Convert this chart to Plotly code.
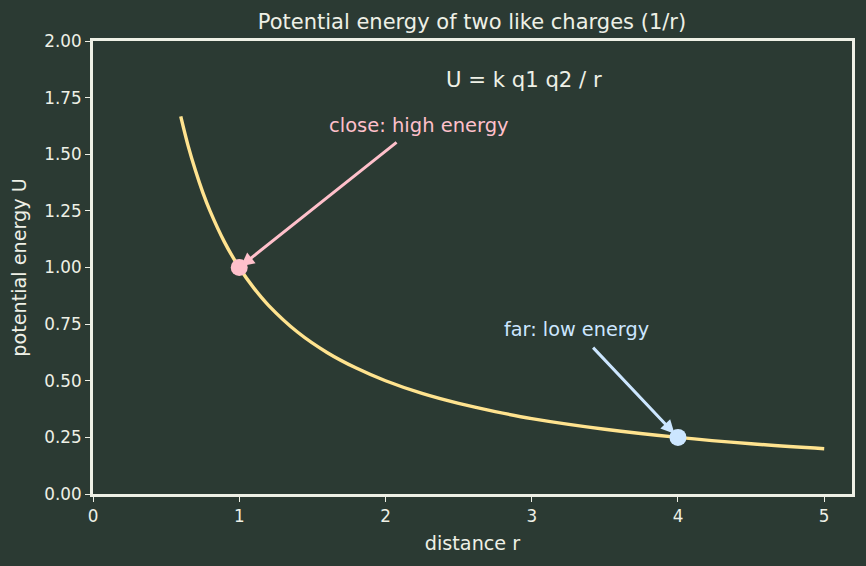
import plotly.graph_objects as go

# ---- data ----
r_vals = [0.6, 0.65, 0.7, 0.75, 0.8, 0.9, 1.0, 1.1, 1.2, 1.4, 1.6, 1.8, 2.0, 2.25, 2.5, 2.75, 3.0, 3.5, 4.0, 4.5, 5.0]
u_vals = [1.667, 1.538, 1.429, 1.333, 1.25, 1.111, 1.0, 0.909, 0.833, 0.714, 0.625, 0.556, 0.5, 0.444, 0.4, 0.364, 0.333, 0.286, 0.25, 0.222, 0.2]
close_pt = (1.0, 1.0)
far_pt = (4.0, 0.25)
x_ticks = [0, 1, 2, 3, 4, 5]
y_ticks = [0.0, 0.25, 0.5, 0.75, 1.0, 1.25, 1.5, 1.75, 2.0]

BG = "#2b3a33"
FG = "#eef0e6"
CURVE = "#ffe38f"
PINK = "#ffc0cb"
BLUE = "#cce6ff"
FONT = "DejaVu Sans"

fig = go.Figure()
fig.add_trace(go.Scatter(x=r_vals, y=u_vals, mode="lines", line=dict(color=CURVE, width=3.4, shape="spline"),
                         showlegend=False, hoverinfo="skip"))
fig.add_trace(go.Scatter(x=[close_pt[0]], y=[close_pt[1]], mode="markers",
                         marker=dict(color=PINK, size=17), showlegend=False))
fig.add_trace(go.Scatter(x=[far_pt[0]], y=[far_pt[1]], mode="markers",
                         marker=dict(color=BLUE, size=17), showlegend=False))

# arrows
fig.add_annotation(x=close_pt[0], y=close_pt[1], ax=2.086, ay=1.558, xref="x", yref="y", axref="x", ayref="y",
                   text="", showarrow=True, arrowhead=2, arrowsize=0.9, arrowwidth=3, arrowcolor=PINK, standoff=2)
fig.add_annotation(x=far_pt[0], y=far_pt[1], ax=3.41, ay=0.653, xref="x", yref="y", axref="x", ayref="y",
                   text="", showarrow=True, arrowhead=2, arrowsize=0.9, arrowwidth=3, arrowcolor=BLUE, standoff=5)

# texts
fig.add_annotation(x=1.6, y=1.625, text="close: high energy", showarrow=False, xanchor="left", yanchor="middle",
                   font=dict(family=FONT, size=19.5, color=PINK))
fig.add_annotation(x=2.8, y=0.728, text="far: low energy", showarrow=False, xanchor="left", yanchor="middle",
                   font=dict(family=FONT, size=19.3, color=BLUE))
fig.add_annotation(x=2.4, y=1.828, text="U = k q1 q2 / r", showarrow=False, xanchor="left", yanchor="middle",
                   font=dict(family=FONT, size=21.2, color=FG))

fig.update_layout(
    width=866, height=566,
    paper_bgcolor=BG, plot_bgcolor=BG,
    margin=dict(l=93, r=14, t=41, b=72),
    font=dict(family=FONT, color=FG, size=16),
    title=dict(text="Potential energy of two like charges (1/r)", x=0.545, xanchor="center", y=0.961, yanchor="middle",
               font=dict(family=FONT, size=21, color=FG)),
    xaxis=dict(range=[0, 5.19], tickvals=x_ticks, ticktext=[str(t) for t in x_ticks], showgrid=False, zeroline=False,
               showline=True, linecolor=FG, linewidth=3, mirror=True, ticks="outside", ticklen=5, tickwidth=1.2,
               tickcolor=FG, tickfont=dict(size=16.8, color=FG),
               title=dict(text="distance r", font=dict(size=19.2, color=FG), standoff=12)),
    yaxis=dict(range=[0, 2.0], tickvals=y_ticks, ticktext=[f"{t:.2f}" for t in y_ticks], showgrid=False, zeroline=False,
               showline=True, linecolor=FG, linewidth=3, mirror=True, ticks="outside", ticklen=5, tickwidth=1.2,
               tickcolor=FG, tickfont=dict(size=16.8, color=FG),
               title=dict(text="potential energy U", font=dict(size=19.2, color=FG), standoff=13)),
)

fig.write_html("out.html")
